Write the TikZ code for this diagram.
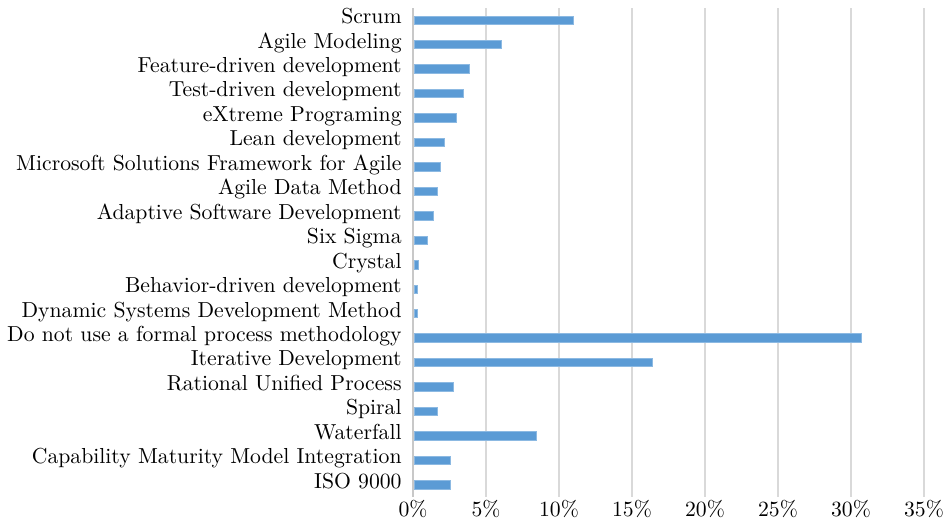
\documentclass[tikz,border=0pt]{standalone}
\usepackage{tikz}
\usetikzlibrary{positioning}
\usepackage{xcolor}
\definecolor{barblue}{HTML}{5B9BD5}
\definecolor{gridgray}{HTML}{D9D9D9}
\definecolor{axisgray}{HTML}{C8C8C8}
\tikzstyle{method} = [anchor=base east, inner sep=0pt, font=\fontsize{10.85}{13}\selectfont]
\tikzstyle{pct} = [anchor=base, inner sep=0pt, font=\fontsize{10.85}{13}\selectfont]
\tikzstyle{bar} = [fill=barblue, draw=barblue!70!white, line width=0.25pt]
\tikzstyle{gridline} = [draw=gridgray, line width=0.8pt]
\tikzstyle{axisline} = [draw=axisgray, line width=0.9pt]

\begin{document}
\begin{tikzpicture}[x=0.5pt,y=-0.5pt]
\useasboundingbox (0,0) rectangle (950,525);

% grid and axis
\draw[gridline] (486,8) -- (486,497);
\draw[gridline] (559,8) -- (559,497);
\draw[gridline] (632,8) -- (632,497);
\draw[gridline] (705,8) -- (705,497);
\draw[gridline] (778,8) -- (778,497);
\draw[gridline] (851,8) -- (851,497);
\draw[gridline] (924,8) -- (924,497);
\draw[axisline] (413,8) -- (413,497);

\node (p0) [pct] at (413,516) {0\%};
\node (p5) [pct] at (486,516) {5\%};
\node (p10) [pct] at (559,516) {10\%};
\node (p15) [pct] at (632,516) {15\%};
\node (p20) [pct] at (705,516) {20\%};
\node (p25) [pct] at (778,516) {25\%};
\node (p30) [pct] at (851,516) {30\%};
\node (p35) [pct] at (924,516) {35\%};

% method labels
\node (scrum) [method] at (402,23.5) {Scrum};
\node (agilemod) [method] at (402,48) {Agile Modeling};
\node (fdd) [method] at (402,72.5) {Feature-driven development};
\node (tdd) [method] at (402,96.9) {Test-driven development};
\node (xp) [method] at (402,121.4) {eXtreme Programing};
\node (lean) [method] at (402,145.8) {Lean development};
\node (msf) [method] at (402,170.3) {Microsoft Solutions Framework for Agile};
\node (agiledata) [method] at (402,194.7) {Agile Data Method};
\node (asd) [method] at (402,219.2) {Adaptive Software Development};
\node (sixsigma) [method] at (402,243.6) {Six Sigma};
\node (crystal) [method] at (402,268.1) {Crystal};
\node (bdd) [method] at (402,292.6) {Behavior-driven development};
\node (dsdm) [method] at (402,317) {Dynamic Systems Development Method};
\node (none) [method] at (402,341.5) {Do not use a formal process methodology};
\node (iter) [method] at (402,365.9) {Iterative Development};
\node (rup) [method] at (402,390.4) {Rational Unified Process};
\node (spiral) [method] at (402,414.8) {Spiral};
\node (waterfall) [method] at (402,439.3) {Waterfall};
\node (cmmi) [method] at (402,463.7) {Capability Maturity Model Integration};
\node (iso) [method] at (402,488.2) {ISO 9000};

% bars (x in percent)
\begin{scope}[shift={(414,0)},x=7.3pt]
\fill[bar] (0,15.8) rectangle (10.9,24.2);
\fill[bar] (0,40.3) rectangle (6.0,48.7);
\fill[bar] (0,64.7) rectangle (3.8,73.1);
\fill[bar] (0,89.2) rectangle (3.4,97.6);
\fill[bar] (0,113.6) rectangle (2.9,122.0);
\fill[bar] (0,138.1) rectangle (2.1,146.5);
\fill[bar] (0,162.6) rectangle (1.8,171.0);
\fill[bar] (0,187.0) rectangle (1.6,195.4);
\fill[bar] (0,211.5) rectangle (1.3,219.9);
\fill[bar] (0,235.9) rectangle (0.9,244.3);
\fill[bar] (0,260.4) rectangle (0.3,268.8);
\fill[bar] (0,284.8) rectangle (0.2,293.2);
\fill[bar] (0,309.3) rectangle (0.2,317.7);
\fill[bar] (0,333.7) rectangle (30.6,342.1);
\fill[bar] (0,358.2) rectangle (16.3,366.6);
\fill[bar] (0,382.7) rectangle (2.7,391.1);
\fill[bar] (0,407.1) rectangle (1.6,415.5);
\fill[bar] (0,431.6) rectangle (8.4,440.0);
\fill[bar] (0,456.0) rectangle (2.5,464.4);
\fill[bar] (0,480.5) rectangle (2.5,488.9);
\end{scope}

\end{tikzpicture}
\end{document}
